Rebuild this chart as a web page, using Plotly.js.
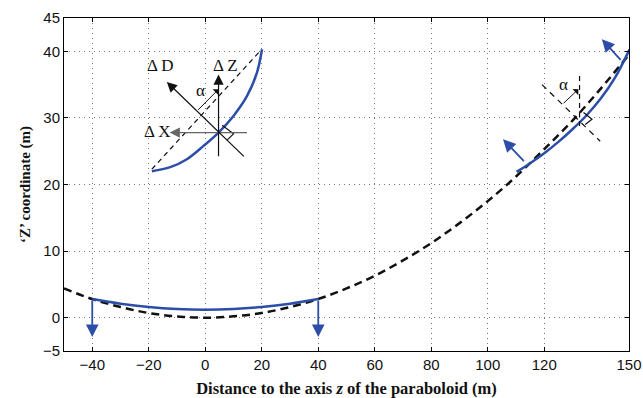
<!DOCTYPE html>
<html><head><meta charset="utf-8">
<script src="https://cdn.plot.ly/plotly-3.0.1.min.js"></script>
<style>html,body{margin:0;padding:0;background:#fff;}#chart{width:643px;height:398px;}</style>
</head><body><div id="chart"></div>
<script>
// Reference paraboloid (dashed)
const parabolaX = [-50,-40,-30,-20,-10,0,10,20,30,40,50,60,70,80,90,100,110,120,130,140,150];
const parabolaZ = [4.4,2.8,1.6,0.7,0.2,0,0.2,0.7,1.6,2.8,4.4,6.3,8.6,11.2,14.2,17.5,21.2,25.3,29.6,34.4,39.5];
// Blue surface, bottom position
const bottomX = [-40,-30,-20,-10,0,10,20,30,40];
const bottomZ = [2.8,2.1,1.6,1.3,1.2,1.3,1.6,2.1,2.8];
// Blue surface, tilted position (right)
const rightX = [110.2,115,120,125,130,135,140,145,150.2];
const rightZ = [21.9,23.2,24.7,26.4,28.3,30.4,32.9,36.0,40.3];
// Inset sketch surface
const insetX = [-18.9,-12.4,-6.5,-0.6,4.7,10.0,14.8,18.3,20.1];
const insetZ = [22.0,22.6,23.8,25.8,27.8,30.3,33.3,36.8,40.3];
// Inset chord
const chordX = [-18.9,18.9];
const chordZ = [22.3,39.8];
// Inset right-angle marker
const insetMarkX = [6.0,10.0,7.8];
const insetMarkZ = [28.9,27.6,26.7];
// Right construction lines
const rightVertX = [132.5,132.5];
const rightVertZ = [36.3,28.8];
const rightDiagX = [119.2,139.8];
const rightDiagZ = [35.0,26.5];
const rightMarkX = [133.9,136.9,134.5];
const rightMarkZ = [30.8,29.8,29.0];
// Arrows: tail -> tip
const blueArrowTailX = [-40,40,113.3,147.5];
const blueArrowTailZ = [2.8,2.8,23.3,38.5];
const blueArrowTipX = [-40,40,105.4,140.4];
const blueArrowTipZ = [-2.9,-2.9,26.8,41.8];
const blackArrowTailX = [15.3,4.7,14.2];
const blackArrowTailZ = [27.8,24.0,24.0];
const blackArrowTipX = [-12.6,4.7,-13.6];
const blackArrowTipZ = [27.8,36.5,35.4];
const alphaArrowTailX = [-3.0,126.3];
const alphaArrowTailZ = [31.0,32.0];
const alphaArrowTipX = [4.7,132.1];
const alphaArrowTipZ = [34.3,34.3];
// Labels
const labelText = ['Δ D','Δ Z','α','Δ X','α'];
const labelX = [-16.0,7.3,-1.8,-16.8,126.7];
const labelZ = [37.8,37.8,34.1,28.0,35.0];
// Axis ticks
const xTicks = [-40,-20,0,20,40,60,80,100,120,150];
const xTickText = ['−40','−20','0','20','40','60','80','100','120','150'];
const yTicks = [-5,0,10,20,30,40,45];

const blue = 'rgb(44,78,168)';
const traces = [
  {x: parabolaX, y: parabolaZ, mode:'lines', line:{color:'#111', width:2.5, dash:'8px,5px', shape:'spline'}},
  {x: bottomX, y: bottomZ, mode:'lines', line:{color:blue, width:2.5, shape:'spline'}},
  {x: rightX, y: rightZ, mode:'lines', line:{color:blue, width:2.5, shape:'spline'}},
  {x: chordX, y: chordZ, mode:'lines', line:{color:'#111', width:1.2, dash:'5px,4px'}},
  {x: insetX, y: insetZ, mode:'lines', line:{color:blue, width:2.5, shape:'spline', smoothing:1}},
  {x: insetMarkX, y: insetMarkZ, mode:'lines', line:{color:'#111', width:1.2}},
  {x: rightVertX, y: rightVertZ, mode:'lines', line:{color:'#111', width:1.2, dash:'5px,4px'}},
  {x: rightDiagX, y: rightDiagZ, mode:'lines', line:{color:'#111', width:1.2, dash:'6px,5px'}},
  {x: rightMarkX, y: rightMarkZ, mode:'lines', line:{color:'#111', width:1.2}}
];

const annotations = [];
blueArrowTailX.forEach((_, i) => annotations.push({
  x: blueArrowTipX[i], y: blueArrowTipZ[i], ax: blueArrowTailX[i], ay: blueArrowTailZ[i],
  xref:'x', yref:'y', axref:'x', ayref:'y', text:'', showarrow:true,
  arrowhead:2, arrowsize:1.4, arrowwidth:1.8, arrowcolor:blue
}));
blackArrowTailX.forEach((_, i) => annotations.push({
  x: blackArrowTipX[i], y: blackArrowTipZ[i], ax: blackArrowTailX[i], ay: blackArrowTailZ[i],
  xref:'x', yref:'y', axref:'x', ayref:'y', text:'', showarrow:true,
  arrowhead:2, arrowsize:1.7, arrowwidth:1.2, arrowcolor: i===0 ? '#666' : '#111'
}));
alphaArrowTailX.forEach((_, i) => annotations.push({
  x: alphaArrowTipX[i], y: alphaArrowTipZ[i], ax: alphaArrowTailX[i], ay: alphaArrowTailZ[i],
  xref:'x', yref:'y', axref:'x', ayref:'y', text:'', showarrow:true,
  arrowhead:1, arrowsize:1.4, arrowwidth:1, arrowcolor:'#111'
}));
labelText.forEach((t, i) => annotations.push({
  x: labelX[i], y: labelZ[i], xref:'x', yref:'y', text: t, showarrow:false,
  font:{family:'Liberation Serif, Times New Roman, serif', size:17, color:'#111'}
}));

const axisCommon = {
  showline:true, linecolor:'#000', linewidth:1, mirror:'allticks',
  ticks:'inside', ticklen:4, tickcolor:'#000',
  showgrid:true, gridcolor:'#777', griddash:'1px,4px', gridwidth:1,
  zeroline:false, tickmode:'array',
  tickfont:{family:'Liberation Sans, Arial, sans-serif', size:15, color:'#111'}
};

const layout = {
  width:643, height:398,
  margin:{l:64, r:14, t:18, b:47},
  paper_bgcolor:'#fff', plot_bgcolor:'#fff',
  showlegend:false,
  xaxis: Object.assign({}, axisCommon, {
    range:[-50,150], tickvals:xTicks, ticktext:xTickText,
    title:{text:'<b>Distance to the axis <i>z</i> of the paraboloid (m)</b>', standoff:10,
      font:{family:'Liberation Serif, Times New Roman, serif', size:16.5, color:'#111'}}
  }),
  yaxis: Object.assign({}, axisCommon, {
    range:[-5,45], tickvals:yTicks,
    title:{text:'<b>‘Z’ coordinate (m)</b>', standoff:8,
      font:{family:'Liberation Serif, Times New Roman, serif', size:15, color:'#111'}}
  }),
  annotations: annotations
};

Plotly.newPlot('chart', traces, layout, {staticPlot:true, displayModeBar:false});
</script>
</body></html>
